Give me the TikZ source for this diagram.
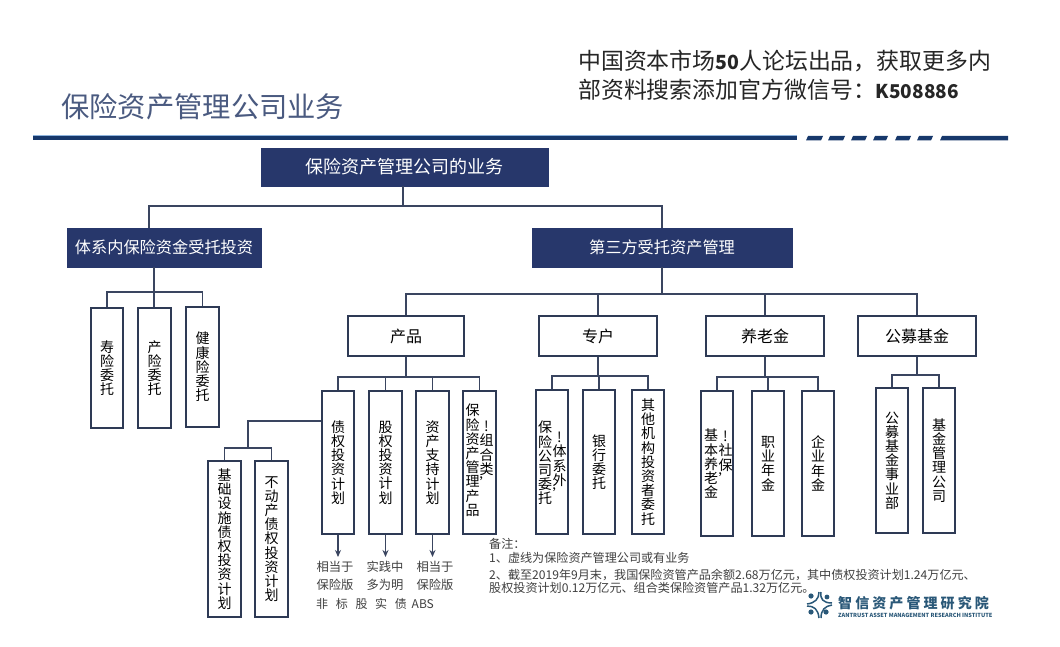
\documentclass[tikz,border=0pt]{standalone}
\usepackage{fontspec}
\setmainfont{Noto Sans CJK SC}
\newfontfamily\logofont[LetterSpace=22]{Noto Sans CJK SC}
\usetikzlibrary{arrows.meta}
\definecolor{navy}{HTML}{27376B}
\definecolor{linec}{HTML}{3A4560}
\definecolor{boxl}{HTML}{2E3A55}
\definecolor{rulec}{HTML}{17386B}
\definecolor{rulehi}{HTML}{8FB4DC}
\definecolor{titlec}{HTML}{4A5A80}
\definecolor{logoc}{HTML}{2A5878}
\tikzset{
 x=1pt,y=-1pt,
 head/.style={fill=navy,draw=navy,text=white,font=\fontsize{16.2}{16}\selectfont,inner sep=0pt},
 mid/.style={draw=boxl,line width=1.6pt,fill=white,font=\fontsize{16}{16}\selectfont,inner sep=0pt},
 vbox/.style={draw=boxl,line width=1.5pt,fill=white,align=center,font=\fontsize{14}{14.2}\selectfont,inner sep=0pt},
 vcol/.style={font=\fontsize{14}{14.2}\selectfont,align=center,inner sep=0pt,anchor=north},
 conn/.style={draw=linec,line width=1.5pt},
 arr/.style={draw=linec,line width=1.4pt,-{Stealth[length=7pt,width=6pt]}},
 lab/.style={font=\fontsize{12.3}{18}\selectfont,align=center,inner sep=0pt,text=black!75},
 note/.style={font=\fontsize{12.1}{12}\selectfont,anchor=west,inner sep=0pt,text=black!75},
 promotext/.style={font=\fontsize{22.9}{22.9}\selectfont,anchor=west,inner sep=0pt,text=black!85},
}
\newcommand{\bx}[8]{\node[#1,minimum width=#4-#2,minimum height=#5-#3,#8] (#6) at ({(#2+#4)/2},{(#3+#5)/2}) {#7};}
\begin{document}
\begin{tikzpicture}
\useasboundingbox (0,0) rectangle (1060,647);
\fill[white] (0,0) rectangle (1060,647);
% header
\node[font=\fontsize{28.3}{28}\selectfont,text=titlec,anchor=west,inner sep=0pt] (title) at (61,107) {保险资产管理公司业务};
\node[promotext] (promoa) at (578,61) {中国资本市场{\fontsize{19.5}{20}\selectfont\textbf{50}}人论坛出品，获取更多内};
\node[promotext] (promob) at (578,89.5) {部资料搜索添加官方微信号：{\fontsize{19}{20}\selectfont\textbf{K508886}}};
\fill[rulec] (33,136) rectangle (797,140.5);
\fill[rulehi] (33,135.4) rectangle (797,136.4);
\foreach \a/\b in {806/823,828/845,851/867,873/888,895/911,917/933}{\fill[rulec] (\a+2,136) -- (\b,136) -- (\b-2,140.5) -- (\a,140.5) -- cycle;}
\fill[rulec] (942,136) -- (1008,136) -- (1008,140.5) -- (940,140.5) -- cycle;
% heads
\bx{head}{261}{148}{548}{186}{root}{\fontsize{18}{18}\selectfont 保险资产管理公司的业务}{}
\bx{head}{67}{228}{261}{267}{inh}{体系内保险资金受托投资}{}
\bx{head}{532}{228}{792}{267}{third}{第三方受托资产管理}{}
% mids
\bx{mid}{348}{316}{464}{356}{prod}{产品}{}
\bx{mid}{539}{316}{657}{356}{acct}{专户}{}
\bx{mid}{706}{316}{824}{356}{pens}{养老金}{}
\bx{mid}{858}{316}{976}{356}{fund}{公募基金}{}
% left column
\bx{vbox}{91}{308}{123}{428}{a1}{寿\\险\\委\\托}{}
\bx{vbox}{138}{308}{171}{428}{a2}{产\\险\\委\\托}{}
\bx{vbox}{186}{307}{219}{427}{a3}{健\\康\\险\\委\\托}{}
% product children
\bx{vbox}{322}{391}{354}{534}{p1}{债\\权\\投\\资\\计\\划}{}
\bx{vbox}{369}{391}{402}{534}{p2}{股\\权\\投\\资\\计\\划}{}
\bx{vbox}{416}{391}{449}{534}{p3}{资\\产\\支\\持\\计\\划}{}
\bx{vbox}{463}{391}{496}{534}{p4}{}{}
\node[vcol] (p4a) at (472.5,404) {保\\险\\资\\产\\管\\理\\产\\品};
\node[vcol] (p4b) at (486.5,421) {!\\组\\合\\类\\'};
\bx{vbox}{208}{461}{241}{617}{b1}{基\\础\\设\\施\\债\\权\\投\\资\\计\\划}{}
\bx{vbox}{255}{461}{288}{617}{b2}{不\\动\\产\\债\\权\\投\\资\\计\\划}{}
% account children
\bx{vbox}{536}{390}{568}{534}{c1}{}{}
\node[vcol] (c1a) at (545,421) {保\\险\\公\\司\\委\\托};
\node[vcol] (c1b) at (559.5,432) {!\\体\\系\\外\\'};
\bx{vbox}{583}{390}{615}{534}{c2}{银\\行\\委\\托}{}
\bx{vbox}{632}{390}{664}{534}{c3}{其\\他\\机\\构\\投\\资\\者\\委\\托}{}
% pension children
\bx{vbox}{701}{391}{733}{536}{d1}{}{}
\node[vcol] (d1a) at (711,429) {基\\本\\养\\老\\金};
\node[vcol] (d1b) at (725.5,431) {!\\社\\保\\'};
\bx{vbox}{752}{391}{784}{536}{d2}{职\\业\\年\\金}{}
\bx{vbox}{802}{391}{834}{536}{d3}{企\\业\\年\\金}{}
% fund children
\bx{vbox}{876}{388}{908}{533}{e1}{公\\募\\基\\金\\事\\业\\部}{}
\bx{vbox}{923}{388}{955}{533}{e2}{基\\金\\管\\理\\公\\司}{}
% connectors
\coordinate (t0) at (403,206);
\draw[conn] (root.south -| t0) -- (t0);
\draw[conn] (inh.north -| 149,0) -- (149,206) -- (662,206) -- (third.north -| 662,0);
\draw[conn] (inh.south -| 154,0) -- (a2.north -| 154,0);
\draw[conn] (a1.north) -- (a1.north |- 0,292) -- (a3.north |- 0,292) -- (a3.north);
\draw[conn] (third.south -| 662,0) -- (662,294);
\draw[conn] (prod.north) -- (prod.north |- 0,294) -- (fund.north |- 0,294) -- (fund.north);
\draw[conn] (acct.north) -- (acct.north |- 0,294);
\draw[conn] (pens.north) -- (pens.north |- 0,294);
\draw[conn] (prod.south) -- (prod.south |- 0,377);
\draw[conn] (p1.north) -- (p1.north |- 0,377) -- (p4.north |- 0,377) -- (p4.north);
\draw[conn] (p2.north) -- (p2.north |- 0,377);
\draw[conn] (p3.north) -- (p3.north |- 0,377);
\draw[conn] (p1.west |- 0,421) -- (248,421) -- (248,448);
\draw[conn] (b1.north) -- (b1.north |- 0,448) -- (b2.north |- 0,448) -- (b2.north);
\draw[conn] (acct.south) -- (acct.south |- 0,376);
\draw[conn] (c1.north) -- (c1.north |- 0,376) -- (c3.north |- 0,376) -- (c3.north);
\draw[conn] (c2.north) -- (c2.north |- 0,376);
\draw[conn] (pens.south) -- (pens.south |- 0,377);
\draw[conn] (d1.north) -- (d1.north |- 0,377) -- (d3.north |- 0,377) -- (d3.north);
\draw[conn] (d2.north) -- (d2.north |- 0,377);
\draw[conn] (fund.south) -- (fund.south |- 0,375);
\draw[conn] (e1.north) -- (e1.north |- 0,375) -- (e2.north |- 0,375) -- (e2.north);
% labels under products
\node[lab,anchor=north] (l1) at (335,561) {相当于\\保险版};
\node[lab,anchor=north] (l2) at (385,561) {实践中\\多为明};
\node[lab,anchor=north] (l3) at (435,561) {相当于\\保险版};
\coordinate (a1end) at (338,557);
\draw[arr] (p1.south) -- (p1.south |- a1end);
\draw[arr] (p2.south) -- (p2.south |- a1end);
\draw[arr] (p3.south) -- (p3.south |- a1end);
\node[font=\fontsize{12}{12}\selectfont,anchor=west,inner sep=0pt,text=black!75] (l4) at (316,604) {非\hspace{0.64em}标\hspace{0.64em}股\hspace{0.64em}实\hspace{0.64em}债\hspace{0.4em}ABS};
% notes
\node[note] (n0) at (489,544) {备注：};
\node[note] (n1) at (489,558) {1、虚线为保险资产管理公司或有业务};
\node[note] (n2) at (489,575) {2、截至2019年9月末，我国保险资管产品余额2.68万亿元，其中债权投资计划1.24万亿元、};
\node[note] (n3) at (489,588) {股权投资计划0.12万亿元、组合类保险资管产品1.32万亿元。};
% logo
\begin{scope}[logoc]
\fill (811,596) circle (2.6);\fill (827,597) circle (2.4);\fill (811,612) circle (2.6);\fill (826,612) circle (2.6);
\draw[line width=1.5pt] (819,592) .. controls (819,599) and (815,603) .. (807,604);
\draw[line width=1.5pt] (821,592) .. controls (820,599) and (823,603) .. (832,603);
\draw[line width=1.5pt] (807,606) .. controls (814,606) and (818,609) .. (819,618);
\draw[line width=1.5pt] (832,605) .. controls (825,606) and (821,610) .. (821,618);
\end{scope}
\node[font=\logofont\bfseries\fontsize{14}{14}\selectfont,text=logoc,anchor=west,inner sep=0pt] (logo) at (838,603) {智信资产管理研究院};
\node[font=\bfseries\fontsize{5.6}{5.6}\selectfont,text=logoc,anchor=west,inner sep=0pt] (logoen) at (838,615) {ZANTRUST ASSET MANAGEMENT RESEARCH INSTITUTE};
\end{tikzpicture}
\end{document}
